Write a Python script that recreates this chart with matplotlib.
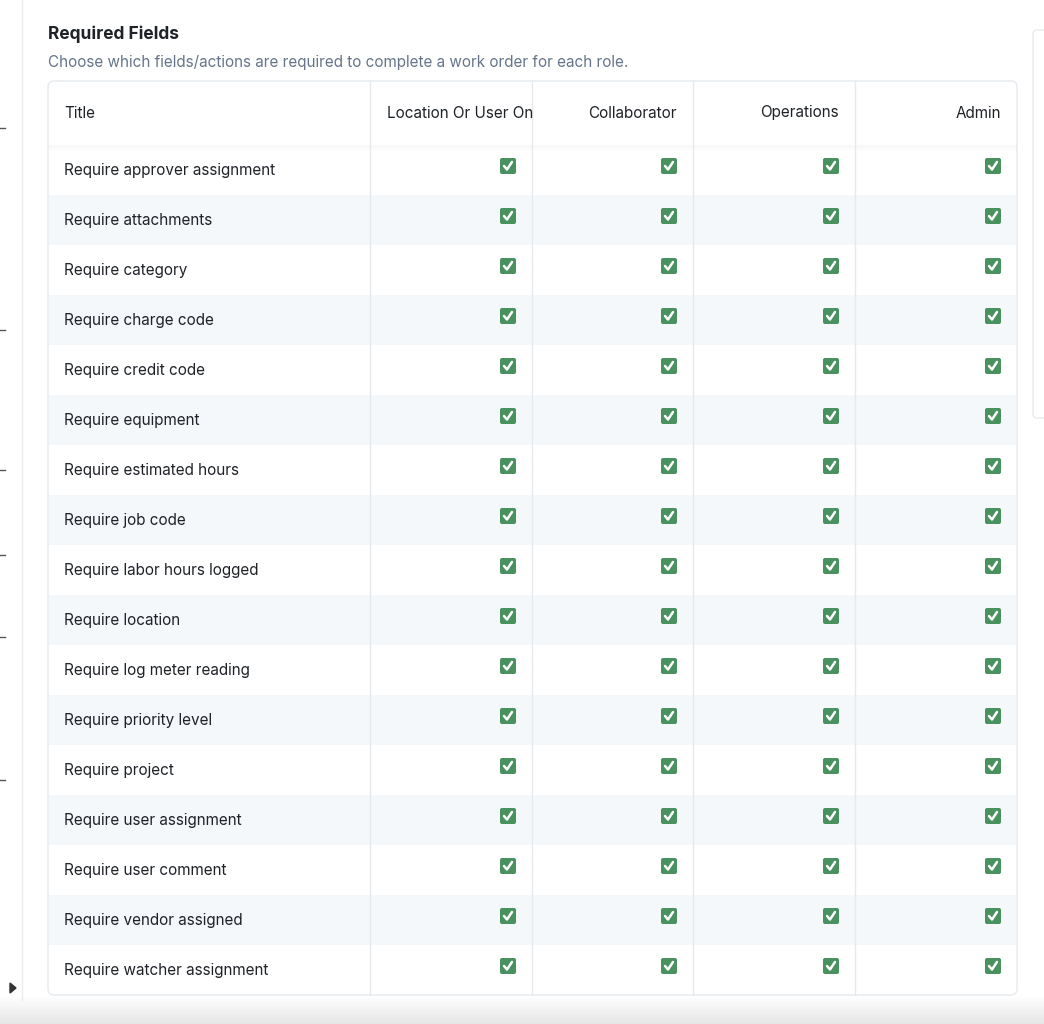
import numpy as np
import matplotlib.pyplot as plt
from matplotlib.patches import Rectangle, FancyBboxPatch, Polygon

plt.rcParams['font.family'] = ['Inter', 'DejaVu Sans']

# table content
columns = ["Location Or User On", "Collaborator", "Operations", "Admin"]
rows = ["Require approver assignment", "Require attachments", "Require category",
        "Require charge code", "Require credit code", "Require equipment",
        "Require estimated hours", "Require job code", "Require labor hours logged",
        "Require location", "Require log meter reading", "Require priority level",
        "Require project", "Require user assignment", "Require user comment",
        "Require vendor assigned", "Require watcher assignment"]
checked = [[True, True, True, True] for _ in rows]

W, H = 1044, 1024
fig = plt.figure(figsize=(W / 100, H / 100), dpi=100)
ax = fig.add_axes([0, 0, 1, 1])
ax.set_xlim(0, W)
ax.set_ylim(H, 0)
ax.axis('off')

GREEN = '#4a9160'
LINE = '#e6eaef'
TXT = '#1f2328'

# page chrome
ax.plot([22, 22], [0, 1000], color='#e8ebef', lw=1)
for y in [128, 330, 470, 555, 637, 780]:
    ax.plot([0, 5], [y, y], color='#555', lw=1)
ax.add_patch(Polygon([[10, 983], [10, 993], [16, 988]], color='#333'))
ax.add_patch(FancyBboxPatch((1033, 30), 20, 388, boxstyle='round,pad=0,rounding_size=4',
                            fc='white', ec=LINE, lw=1))
grad = np.linspace(1.0, 0.9, 30).reshape(-1, 1)
ax.imshow(grad, cmap='gray', vmin=0, vmax=1, extent=[0, W, 1024, 994], aspect='auto', zorder=0)

ax.text(48, 34, "Required Fields", fontsize=12.5, fontweight='bold', color=TXT, va='center')
ax.text(48, 62, "Choose which fields/actions are required to complete a work order for each role.",
        fontsize=11, color='#66758c', va='center')

# table
x0, x1 = 48, 1017
top, head_bot, row_h = 81, 145, 50
col_edges = [x0, 370, 532, 693, 855, x1]
bottom = head_bot + row_h * len(rows)
ax.add_patch(FancyBboxPatch((x0, top), x1 - x0, bottom - top, boxstyle='round,pad=0,rounding_size=6',
                            fc='white', ec=LINE, lw=1, zorder=1))
for i, name in enumerate(rows):
    yt = head_bot + i * row_h
    if i % 2 == 1:
        ax.add_patch(Rectangle((x0 + 1, yt), x1 - x0 - 2, row_h, fc='#f4f8fb', ec='none', zorder=1.5))
    ax.text(64, yt + 26, name, fontsize=11, color=TXT, va='center', zorder=3)
    for j, val in enumerate(checked[i]):
        if val:
            cx = col_edges[j + 2] - 24
            cy = yt + 21
            ax.add_patch(FancyBboxPatch((cx - 8, cy - 8), 16, 16, boxstyle='round,pad=0,rounding_size=2',
                                        fc=GREEN, ec='none', zorder=3))
            ax.plot([cx - 4, cx - 1, cx + 4], [cy, cy + 3.5, cy - 4], color='white', lw=1.8,
                    solid_capstyle='round', zorder=4)
# header shadow
for k in range(6):
    ax.plot([x0 + 1, x1 - 1], [head_bot + k, head_bot + k], color='black', alpha=0.025 * (6 - k) / 6, lw=1, zorder=2)
ax.text(64, 113, "Title", fontsize=11, color=TXT, va='center', zorder=3)
for j, name in enumerate(columns):
    if j == 0:
        t = ax.text(387, 113, name, fontsize=11, color=TXT, va='center', ha='left', zorder=3)
        t.set_clip_path(Rectangle((col_edges[1], top), col_edges[2] - col_edges[1] - 1, 64, transform=ax.transData))
    else:
        ax.text(col_edges[j + 2] - 16, 113, name, fontsize=11, color=TXT, va='center', ha='right', zorder=3)
for xe in col_edges[1:-1]:
    ax.plot([xe, xe], [top, bottom], color=LINE, lw=1, zorder=2.5)

fig.savefig('out.png', dpi=100)
